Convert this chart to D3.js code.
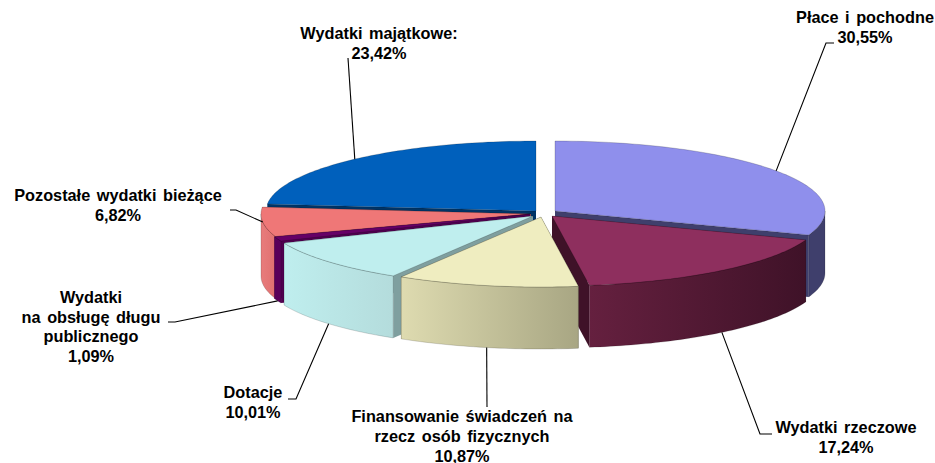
<!DOCTYPE html>
<html>
<head>
<meta charset="utf-8">
<script src="https://cdn.jsdelivr.net/npm/d3@7"></script>
<style>
    body { margin: 0; background: #fff; }
    text { font-family: "Liberation Sans", Arial, sans-serif; font-weight: bold; font-size: 16.3px; fill: #000; word-spacing: 2px; }
</style>
</head>
<body>
<svg id="chart" width="935" height="463"></svg>
<script>
const categories = ["Płace i pochodne", "Wydatki rzeczowe", "Finansowanie świadczeń na rzecz osób fizycznych",
    "Dotacje", "Wydatki na obsługę długu publicznego", "Pozostałe wydatki bieżące", "Wydatki majątkowe:"];
const values = [30.55, 17.24, 10.87, 10.01, 1.09, 6.82, 23.42];
const valueLabels = ["30,55%", "17,24%", "10,87%", "10,01%", "1,09%", "6,82%", "23,42%"];

const labelLines = [
    ["Płace i pochodne", "30,55%"],
    ["Wydatki rzeczowe", "17,24%"],
    ["Finansowanie świadczeń na", "rzecz osób fizycznych", "10,87%"],
    ["Dotacje", "10,01%"],
    ["Wydatki", "na obsługę długu", "publicznego", "1,09%"],
    ["Pozostałe wydatki bieżące", "6,82%"],
    ["Wydatki majątkowe:", "23,42%"]
];

// colours per slice: top, cut face, wall gradient left/right
const topColors = ["#8f8fec", "#8e2f5e", "#efedc0", "#bfeeee", "#660066", "#ef7777", "#0060bc"];
const faceColors = ["#3f3f6c", "#3f1228", "#7d7d60", "#7f9f9f", "#4f004f", "#a05050", "#003466"];
const wallStart = ["#3f3f6c", "#65203f", "#dedbb0", "#bfeeee", "#5a005a", "#e87c7c", "#003466"];
const wallEnd = ["#3f3f6c", "#3f1228", "#a8a683", "#b4dcdc", "#5a005a", "#e07070", "#003466"];

// where each exploded slice's apex sits
const apexX = [555, 552, 541, 533, 530, 531, 536];
const apexY = [211, 216, 217, 216, 214, 214, 211];
const depth = 62;

// back to front
const drawOrder = [6, 0, 5, 4, 3, 1, 2];

// label layout: text centre, first baseline, line height, leader elbow points
const labelX = [865, 846, 462, 253, 91, 118, 379];
const labelY = [23, 433, 422, 398, 303, 201, 39];
const lineGap = [20, 20, 20, 20, 19.5, 19.5, 19.5];
const elbows = [
    [[826, 43], [834, 43]],
    [[760, 434], [772, 434]],
    [[487, 407]],
    [[296, 399], [288, 399]],
    [[175, 322], [168, 322]],
    [[236, 210], [230, 210]],
    [[348, 58]]
];

const svg = d3.select("#chart");
const defs = svg.append("defs");

const unitX = d3.scaleLinear().domain([-1, 1]).range([-270, 270]);
const unitY = d3.scaleLinear().domain([-1, 1]).range([70, -70]);

const slices = d3.pie().sort(null).value(d => d)(values);

function rim(i, a, drop = 0) {
    return [apexX[i] + unitX(Math.sin(a)), apexY[i] + unitY(Math.cos(a)) + drop];
}

function arcPoints(i, a0, a1, drop) {
    const n = Math.max(2, Math.ceil((a1 - a0) / 0.02));
    return d3.range(n + 1).map(k => rim(i, a0 + (a1 - a0) * k / n, drop));
}

const line = d3.line();

slices.forEach((s, i) => {
    const grad = defs.append("linearGradient")
        .attr("id", "wall-" + i)
        .attr("x1", "0%").attr("y1", "0%")
        .attr("x2", "100%").attr("y2", "0%");
    grad.append("stop").attr("offset", "0%").attr("stop-color", wallStart[i]);
    grad.append("stop").attr("offset", "100%").attr("stop-color", wallEnd[i]);
});

drawOrder.forEach(i => {
    const s = slices[i];
    const g = svg.append("g").attr("class", "slice");
    const apexTop = [apexX[i], apexY[i]];
    const apexBottom = [apexX[i], apexY[i] + depth];

    // the two cut faces
    [s.startAngle, s.endAngle].forEach(a => {
        g.append("path")
            .attr("d", line([apexTop, rim(i, a), rim(i, a, depth), apexBottom]) + "Z")
            .attr("fill", faceColors[i]);
    });

    // outer wall, only the part that faces the viewer
    const w0 = Math.max(s.startAngle, Math.PI / 2);
    const w1 = Math.min(s.endAngle, Math.PI * 1.5);
    if (w1 > w0) {
        const pts = arcPoints(i, w0, w1, 0).concat(arcPoints(i, w0, w1, depth).reverse());
        g.append("path")
            .attr("d", line(pts) + "Z")
            .attr("fill", `url(#wall-${i})`)
            .attr("stroke", "#000")
            .attr("stroke-opacity", 0.25)
            .attr("stroke-width", 0.6);
    }

    // top
    g.append("path")
        .attr("d", line([apexTop].concat(arcPoints(i, s.startAngle, s.endAngle, 0))) + "Z")
        .attr("fill", topColors[i])
        .attr("stroke", "#000")
        .attr("stroke-opacity", 0.3)
        .attr("stroke-width", 0.6);
});

// leaders start at the middle of each slice's rim
slices.forEach((s, i) => {
    const mid = (s.startAngle + s.endAngle) / 2;
    const onFront = Math.cos(mid) < -0.3;
    const pts = [rim(i, mid, onFront ? depth : 0)].concat(elbows[i]);
    svg.append("path")
        .attr("d", line(pts))
        .attr("fill", "none")
        .attr("stroke", "#000")
        .attr("stroke-width", 1.1);
});

labelLines.forEach((lines, i) => {
    svg.append("text")
        .attr("text-anchor", "middle")
        .selectAll("tspan")
        .data(lines)
        .enter().append("tspan")
        .attr("x", labelX[i])
        .attr("y", (d, k) => labelY[i] + k * lineGap[i])
        .text(d => d);
});
</script>
</body>
</html>
